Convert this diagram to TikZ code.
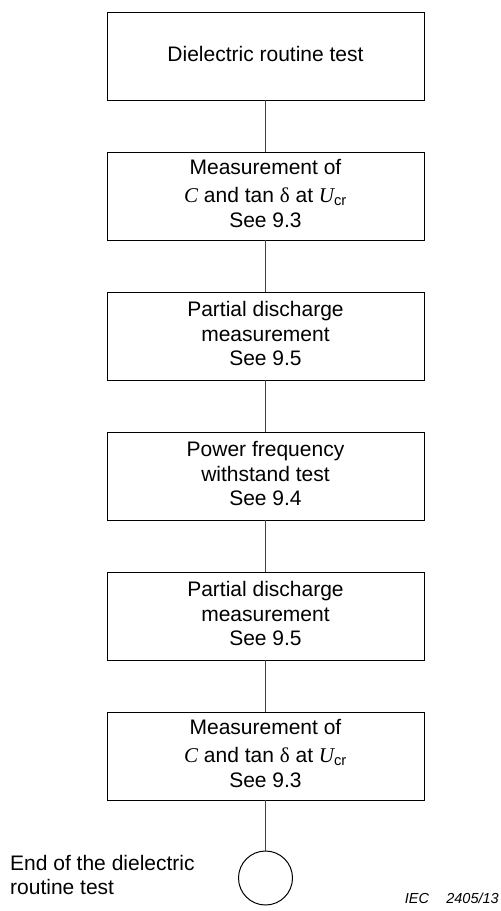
\documentclass[tikz,border=0pt]{standalone}
\usepackage{fontspec}
\setmainfont{Liberation Sans}
\newfontfamily\tnr{Liberation Serif}
\usepackage{tikz}
\usetikzlibrary{positioning}

\newcommand{\capline}{{\tnr\itshape C} and tan {\tnr δ} at {\tnr\itshape U}\textsubscript{cr}}

\begin{document}
\begin{tikzpicture}[x=1pt,y=-1pt,
    testbox/.style={draw, line width=1pt, minimum width=317pt, minimum height=88pt,
      outer sep=0pt, align=center, text depth=5pt, font=\fontsize{21}{24.5}\selectfont},
    endmark/.style={draw, circle, line width=1pt, minimum size=54pt, inner sep=0pt, outer sep=0pt},
    link/.style={draw=black!75, line width=1pt}]
  \useasboundingbox (0,0) rectangle (501,911);

  % the test sequence
  \node[testbox] (dielec) at (265.5,56) {Dielectric routine test};
  \node[testbox, below=52pt of dielec] (capfirst) {Measurement of\\[3.5pt] \capline\\ See 9.3};
  \node[testbox, below=52pt of capfirst] (pdfirst) {Partial discharge\\ measurement\\ See 9.5};
  \node[testbox, below=52pt of pdfirst] (withstand) {Power frequency\\ withstand test\\ See 9.4};
  \node[testbox, below=52pt of withstand] (pdsecond) {Partial discharge\\ measurement\\ See 9.5};
  \node[testbox, below=52pt of pdsecond] (capsecond) {Measurement of\\[3.5pt] \capline\\ See 9.3};

  % end of the sequence
  \node[endmark, below=51pt of capsecond] (finish) {};
  \node[anchor=west, inner sep=0pt, align=left, font=\fontsize{21}{23.5}\selectfont]
    (finishlabel) at (10,875) {End of the dielectric\\ routine test};

  % connectors
  \draw[link] (dielec) -- (capfirst);
  \draw[link] (capfirst) -- (pdfirst);
  \draw[link] (pdfirst) -- (withstand);
  \draw[link] (withstand) -- (pdsecond);
  \draw[link] (pdsecond) -- (capsecond);
  \draw[link] (capsecond) -- (finish);

  \node[anchor=base east, inner sep=0pt, font=\fontsize{14.5}{16}\selectfont\itshape]
    (figref) at (499,903) {IEC\hspace{1.2em}2405/13};
\end{tikzpicture}
\end{document}
